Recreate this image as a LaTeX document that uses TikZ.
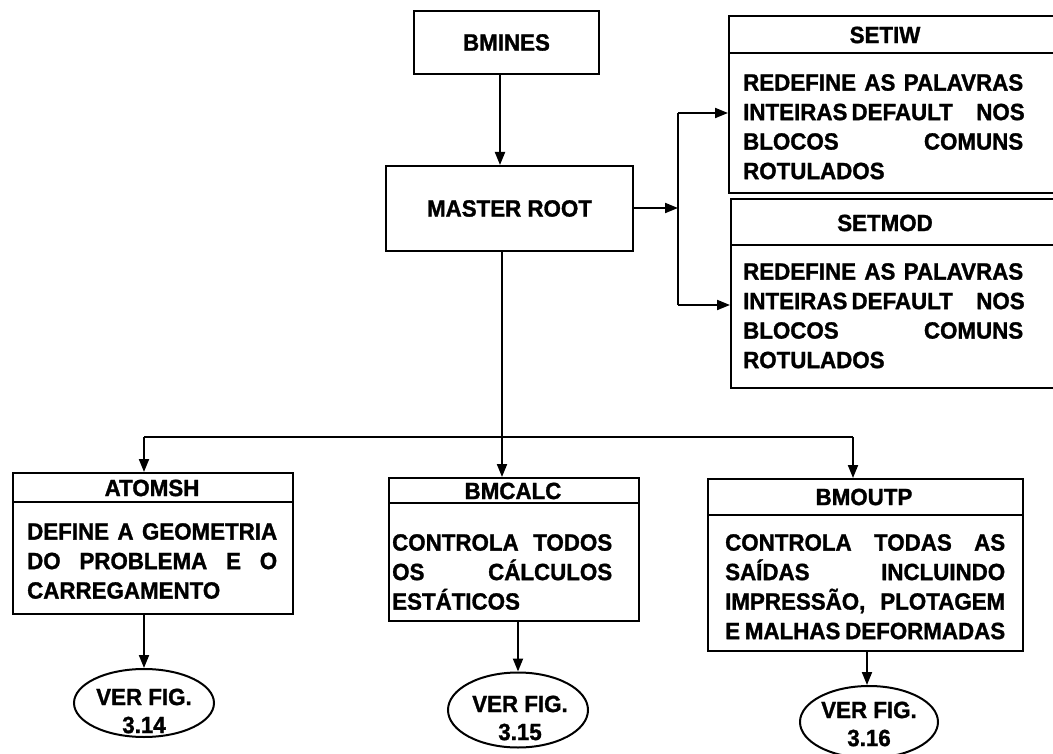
\documentclass[tikz,border=0pt]{standalone}
\usepackage{fontspec}
\setmainfont{Liberation Sans}[BoldFeatures={FakeStretch=0.95,FakeBold=1.3}]
\usetikzlibrary{arrows.meta,shapes.geometric}
\begin{document}
\begin{tikzpicture}[x=1pt,y=-1pt,
  ln/.style={line width=2pt},
  arr/.style={ln,-{Triangle[length=13pt,width=10pt]}},
  box/.style={draw,ln,rectangle,inner sep=0pt,anchor=north west},
  txt/.style={inner sep=0pt,font=\fontsize{23.5}{29.5}\selectfont\bfseries},
  body/.style={txt,align=left,anchor=north west},
  oval/.style={draw,ln,ellipse,inner sep=0pt},
  ovtxt/.style={inner sep=0pt,align=center,font=\fontsize{23.5}{28}\selectfont\bfseries}]
\useasboundingbox (0,0) rectangle (1053,754);
\clip (0,0) rectangle (1053,754);

% top boxes
\node[box,minimum width=185pt,minimum height=63pt] (bmines) at (413,10) {};
\node[txt] (bminesT) at (bmines.center) {BMINES};
\node[box,minimum width=247pt,minimum height=85pt] (master) at (385,165) {};
\node[txt] (masterT) at (master.center) {MASTER ROOT};

% SETIW
\node[box,minimum width=332pt,minimum height=177pt] (setiw) at (728,15) {};
\draw[ln] ([yshift=-38pt]setiw.north west) -- ([yshift=-38pt]setiw.north east);
\node[txt] (setiwT) at (885,35) {SETIW};
\node[body] (setiwB) at (743,74) {\makebox[280pt][s]{REDEFINE AS PALAVRAS}\\
  \makebox[280pt][s]{INTEIRAS DEFAULT\quad NOS}\\
  \makebox[280pt][s]{BLOCOS COMUNS}\\
  ROTULADOS};

% SETMOD
\node[box,minimum width=330pt,minimum height=189pt] (setmod) at (730,198) {};
\draw[ln] ([yshift=-47pt]setmod.north west) -- ([yshift=-47pt]setmod.north east);
\node[txt] (setmodT) at (885,223) {SETMOD};
\node[body] (setmodB) at (743,263) {\makebox[280pt][s]{REDEFINE AS PALAVRAS}\\
  \makebox[280pt][s]{INTEIRAS DEFAULT\quad NOS}\\
  \makebox[280pt][s]{BLOCOS COMUNS}\\
  ROTULADOS};

% ATOMSH
\node[box,minimum width=280pt,minimum height=141pt] (atomsh) at (12,472) {};
\draw[ln] ([yshift=-30pt]atomsh.north west) -- ([yshift=-30pt]atomsh.north east);
\node[txt] (atomshT) at (152,488) {ATOMSH};
\node[body] (atomshB) at (27,523) {\makebox[250pt][s]{DEFINE A GEOMETRIA}\\
  \makebox[250pt][s]{DO PROBLEMA E O}\\
  CARREGAMENTO};

% BMCALC
\node[box,minimum width=250pt,minimum height=143pt] (bmcalc) at (388,477) {};
\draw[ln] ([yshift=-26pt]bmcalc.north west) -- ([yshift=-26pt]bmcalc.north east);
\node[txt] (bmcalcT) at (513,491) {BMCALC};
\node[body] (bmcalcB) at (392,534) {\makebox[220pt][s]{CONTROLA TODOS}\\
  \makebox[220pt][s]{OS CÁLCULOS}\\
  ESTÁTICOS};

% BMOUTP
\node[box,minimum width=315pt,minimum height=172pt] (bmoutp) at (707,478) {};
\draw[ln] ([yshift=-37pt]bmoutp.north west) -- ([yshift=-37pt]bmoutp.north east);
\node[txt] (bmoutpT) at (864,497) {BMOUTP};
\node[body] (bmoutpB) at (725,534) {\makebox[280pt][s]{CONTROLA TODAS AS}\\
  \makebox[280pt][s]{SAÍDAS INCLUINDO}\\
  \makebox[280pt][s]{IMPRESSÃO, PLOTAGEM}\\
  \makebox[280pt][s]{E MALHAS DEFORMADAS}};

% ellipses
\node[oval,minimum width=140pt,minimum height=68pt] (e1) at (144,703) {};
\node[ovtxt] (e1T) at (144,711) {VER FIG.\\3.14};
\node[oval,minimum width=140pt,minimum height=75pt] (e2) at (518,710) {};
\node[ovtxt] (e2T) at (520,718) {VER FIG.\\3.15};
\node[oval,minimum width=138pt,minimum height=72pt] (e3) at (869,722) {};
\node[ovtxt] (e3T) at (869,724) {VER FIG.\\3.16};

% connectors
\draw[arr] ([xshift=-6.5pt]bmines.south) -- ([xshift=-6.5pt]bmines.south |- master.north);
\coordinate (j) at (678,208);
\coordinate (jt) at (678,113);
\coordinate (jb) at (678,305);
\draw[arr] (master.east |- j) -- (j);
\draw[ln] (jt) -- (jb);
\draw[arr] (jt) -- (jt -| setiw.west);
\draw[arr] (jb) -- (jb -| setmod.west);

\coordinate (mv) at ([xshift=-7.5pt]master.south);
\coordinate (hl) at (144,437);
\coordinate (hr) at (853,437);
\draw[arr] (mv) -- (mv |- bmcalc.north);
\draw[ln] (hl) -- (hr);
\draw[arr] (hl) -- (hl |- atomsh.north);
\draw[arr] (hr) -- (hr |- bmoutp.north);

\draw[arr] (e1.north |- atomsh.south) -- (e1.north);
\draw[arr] (e2.north |- bmcalc.south) -- (e2.north);
\draw[arr] ([xshift=-2pt]e3.north |- bmoutp.south) -- ([xshift=-2pt]e3.north);
\end{tikzpicture}
\end{document}
